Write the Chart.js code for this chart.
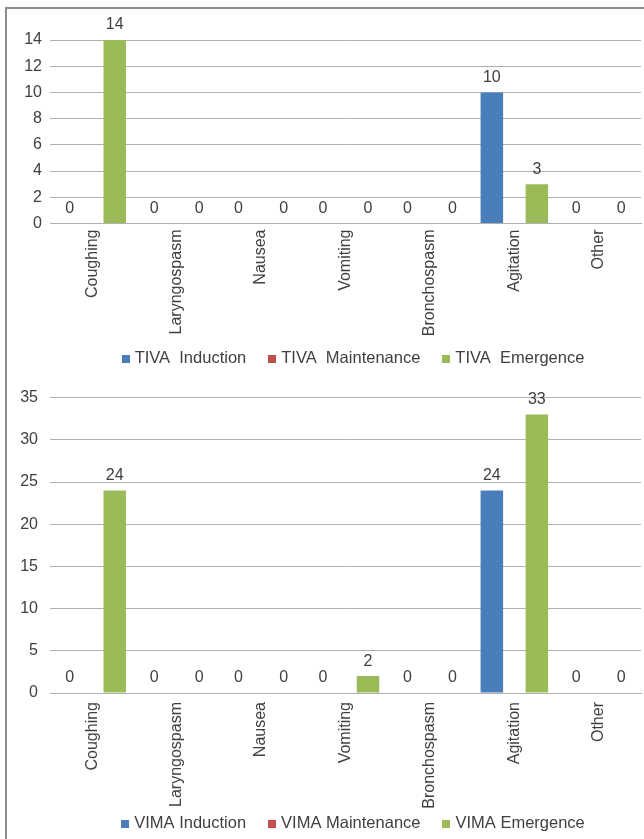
<!DOCTYPE html>
<html>
<head>
<meta charset="utf-8">
<script src="https://cdn.jsdelivr.net/npm/chart.js@4.4.1/dist/chart.umd.min.js"></script>
<style>
html, body { margin: 0; padding: 0; background: #fff; overflow: hidden; }
#page { position: relative; width: 644px; height: 839px; }
#frame { position: absolute; left: 5px; top: 7px; width: 700px; height: 900px;
  border-left: 2px solid #8c8c8c; border-top: 2px solid #8c8c8c; }
.box { position: absolute; left: 0; width: 644px; }
</style>
</head>
<body>
<div id="page">
  <div id="frame"></div>
  <div class="box" style="top:0;height:376px"><canvas id="tivaChart"></canvas></div>
  <div class="box" style="top:376px;height:465px"><canvas id="vimaChart"></canvas></div>
</div>
<script>
const categories = ['Coughing', 'Laryngospasm', 'Nausea', 'Vomiting', 'Bronchospasm', 'Agitation', 'Other'];

const tivaInduction = [0, 0, 0, 0, 0, 10, 0];
const tivaMaintenance = [null, null, null, null, null, null, null];
const tivaEmergence = [14, 0, 0, 0, 0, 3, 0];

const vimaInduction = [0, 0, 0, 0, 0, 24, 0];
const vimaMaintenance = [null, null, null, null, null, null, null];
const vimaEmergence = [24, 0, 0, 2, 0, 33, 0];

const tivaNames = ['TIVA  Induction', 'TIVA  Maintenance', 'TIVA  Emergence'];
const vimaNames = ['VIMA Induction', 'VIMA Maintenance', 'VIMA Emergence'];
const colors = ['#4a7ebb', '#c0504d', '#9bbb59'];

const FONT = '"Liberation Sans", Arial, sans-serif';
Chart.defaults.font.family = FONT;
Chart.defaults.font.size = 16;
Chart.defaults.color = '#404040';

/* value labels above every bar that has a value */
const valueLabels = {
  id: 'valueLabels',
  afterDatasetsDraw(chart) {
    const ctx = chart.ctx;
    ctx.save();
    ctx.font = '16px ' + FONT;
    ctx.fillStyle = '#404040';
    ctx.textAlign = 'center';
    ctx.textBaseline = 'middle';
    chart.data.datasets.forEach((ds, i) => {
      chart.getDatasetMeta(i).data.forEach((bar, j) => {
        const v = ds.data[j];
        if (v === null) return;
        ctx.fillText(String(v), bar.x, bar.y - 15);
      });
    });
    ctx.restore();
  }
};

/* excel-like legend: small square, short gap, text */
const boxLegend = {
  id: 'boxLegend',
  afterDraw(chart, args, opts) {
    const ctx = chart.ctx;
    const size = 8, gap = 5, spacing = 22;
    ctx.save();
    ctx.font = '16.5px ' + FONT;
    ctx.textBaseline = 'middle';
    ctx.textAlign = 'left';
    const items = chart.data.datasets.map(ds => ({
      text: ds.label, color: ds.backgroundColor,
      w: size + gap + ctx.measureText(ds.label).width
    }));
    const total = items.reduce((s, it) => s + it.w, 0) + spacing * (items.length - 1);
    let x = opts.cx - total / 2;
    items.forEach(it => {
      ctx.fillStyle = it.color;
      ctx.fillRect(Math.round(x), Math.round(opts.y - size / 2 + 1), size, size);
      ctx.fillStyle = '#404040';
      ctx.fillText(it.text, x + size + gap, opts.y);
      x += it.w + spacing;
    });
    ctx.restore();
  }
};

function makeChart(id, names, series, yMax, yStep, opt) {
  new Chart(document.getElementById(id), {
    type: 'bar',
    data: {
      labels: categories,
      datasets: series.map((d, i) => ({
        label: names[i],
        data: d,
        backgroundColor: colors[i],
        borderWidth: 0,
        barPercentage: 1,
        categoryPercentage: 0.8
      }))
    },
    options: {
      responsive: true,
      maintainAspectRatio: false,
      animation: false,
      layout: { padding: { top: opt.top, right: 3, left: 0, bottom: opt.bottom } },
      scales: {
        x: {
          grid: { display: false, drawTicks: false, tickLength: 0 },
          border: { display: true, color: '#b0b0b0' },
          ticks: { minRotation: 90, maxRotation: 90, padding: opt.xPad, autoSkip: false },
          afterFit(scale) { scale.height = 120; }
        },
        y: {
          min: 0,
          max: yMax,
          grid: { color: '#b0b0b0', drawTicks: false },
          border: { display: false },
          ticks: { stepSize: yStep, padding: opt.yPad },
          afterFit(scale) { scale.width = 50; }
        }
      },
      plugins: {
        legend: { display: false },
        tooltip: { enabled: false },
        boxLegend: { cx: 353, y: opt.legendY }
      }
    },
    plugins: [valueLabels, boxLegend]
  });
}

makeChart('tivaChart', tivaNames, [tivaInduction, tivaMaintenance, tivaEmergence], 14, 2,
  { top: 40, bottom: 32.5, xPad: 6, yPad: 8, legendY: 358 });

makeChart('vimaChart', vimaNames, [vimaInduction, vimaMaintenance, vimaEmergence], 35, 5,
  { top: 18, bottom: 28, xPad: 9, yPad: 12, legendY: 447 });
</script>
</body>
</html>
